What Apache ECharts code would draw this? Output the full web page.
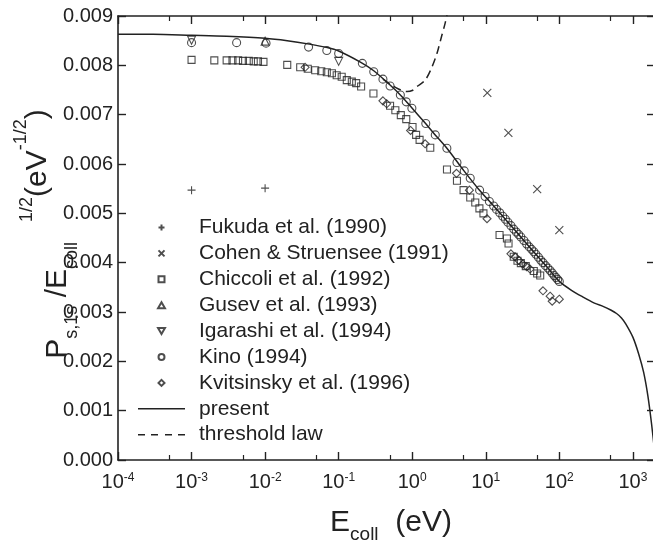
<!DOCTYPE html>
<html><head><meta charset="utf-8">
<script src="https://cdn.jsdelivr.net/npm/echarts@6/dist/echarts.min.js"></script>
<style>html,body{margin:0;padding:0;background:#fff}#c{width:653px;height:544px}</style>
</head><body><div id="c"></div><script>
// axis ticks
const xMajorTicks = [1e-4, 1e-3, 1e-2, 1e-1, 1, 10, 100, 1000];
const xMajorExp = ['-4', '-3', '-2', '-1', '0', '1', '2', '3'];
const xMinorTicks = [5e-4, 5e-3, 5e-2, 0.5, 5, 50, 500];
const yMin = 0, yMax = 0.009, yStep = 0.001;

// data [E_coll (eV), value]
const fukuda = [[0.001, 0.00547], [0.01, 0.00551]];
const cohen = [[10.5, 0.00744], [20.3, 0.00663], [50, 0.00549], [100, 0.00466]];
const chiccoli = [
  [0.001, 0.00811], [0.00204, 0.0081], [0.003, 0.0081], [0.0036, 0.0081], [0.0043, 0.0081],
  [0.005, 0.00809], [0.006, 0.00809], [0.007, 0.00808], [0.008, 0.00808], [0.0095, 0.00807],
  [0.02, 0.00801], [0.03, 0.00796], [0.038, 0.00793], [0.048, 0.0079], [0.058, 0.00788],
  [0.069, 0.00786], [0.081, 0.00784], [0.094, 0.0078], [0.11, 0.00777], [0.129, 0.0077],
  [0.151, 0.00767], [0.173, 0.00764], [0.202, 0.00757], [0.297, 0.00743], [0.5, 0.00718],
  [0.59, 0.00709], [0.7, 0.00699], [0.83, 0.00691], [1.01, 0.00675], [1.13, 0.00659],
  [1.26, 0.00649], [1.76, 0.00633], [2.97, 0.00589], [4.06, 0.00566], [4.99, 0.00547],
  [6.15, 0.00532], [7.2, 0.00522], [8.2, 0.0051], [9.3, 0.005], [15.4, 0.00456],
  [19.4, 0.00449], [20.4, 0.00439], [24, 0.00412], [27, 0.00404], [30, 0.00399],
  [35, 0.00393], [45, 0.00383], [50, 0.00378], [55, 0.00374]
];
const gusev = [[0.01, 0.00849]];
const igarashi = [[0.001, 0.00851], [0.1, 0.00808]];
const kino = [
  [0.001, 0.00846], [0.0041, 0.00846], [0.0103, 0.00845], [0.039, 0.00837], [0.069, 0.0083],
  [0.1, 0.00824], [0.21, 0.00804], [0.3, 0.00787], [0.4, 0.00772], [0.5, 0.00758],
  [0.69, 0.0074], [0.83, 0.00726], [0.99, 0.00713], [1.53, 0.00682], [2.06, 0.00659],
  [2.96, 0.00632], [4.06, 0.00603], [5.1, 0.00586], [6.15, 0.00571], [8.25, 0.00547],
  [9.8, 0.00534], [11.2, 0.00524], [12.8, 0.00515], [14, 0.00508], [15.5, 0.00501],
  [17, 0.00494], [18.5, 0.00488], [20, 0.00482], [22, 0.00475], [24, 0.00468],
  [26, 0.00462], [28, 0.00457], [30, 0.00452], [33, 0.00445], [36, 0.00438],
  [39, 0.00432], [42, 0.00427], [45, 0.00422], [48, 0.00417], [52, 0.00411],
  [56, 0.00405], [60, 0.004], [65, 0.00394], [70, 0.00389], [75, 0.00384],
  [80, 0.00379], [85, 0.00374], [90, 0.0037], [95, 0.00366], [100, 0.00362]
];
const kvitsinsky = [
  [0.035, 0.00796], [0.4, 0.00728], [0.45, 0.00722], [0.95, 0.00668], [1.5, 0.00641],
  [4.0, 0.00581], [6.0, 0.00547], [10.4, 0.00489], [22, 0.00418], [25, 0.00412],
  [28, 0.00405], [32, 0.00397], [36, 0.00392], [40, 0.00387], [60, 0.00343],
  [75, 0.00332], [80, 0.00322], [100, 0.00326]
];
const present = [
  [1e-4, 0.00863], [3e-4, 0.00863], [1e-3, 0.00861], [3e-3, 0.00859], [0.01, 0.00855],
  [0.02, 0.0085], [0.04, 0.00843], [0.07, 0.00836], [0.1, 0.00829], [0.2, 0.00806],
  [0.3, 0.00789], [0.5, 0.0076], [0.7, 0.00739], [1, 0.00713], [1.5, 0.00683],
  [2, 0.00661], [3, 0.00631], [5, 0.00587], [8, 0.00549], [13, 0.00514],
  [20, 0.00482], [30, 0.00452], [50, 0.00414], [70, 0.00389], [100, 0.00362],
  [150, 0.00343], [200, 0.00332], [300, 0.00318], [400, 0.00311], [500, 0.00304],
  [600, 0.00297], [700, 0.00288], [800, 0.00276], [1000, 0.00249], [1200, 0.00215],
  [1400, 0.00178], [1600, 0.0013], [1800, 0.00072], [2000, 0.0001]
];
const threshold = [
  [0.4, 0.00772], [0.5, 0.00762], [0.65, 0.00752], [0.85, 0.00747], [1.0, 0.00749],
  [1.16, 0.00757], [1.5, 0.0077], [1.86, 0.00797], [2.17, 0.00824], [2.5, 0.00858],
  [2.8, 0.00885], [3.05, 0.0091]
];

const INK = '#222';
const FONT = 'Liberation Sans, Arial, sans-serif';
const hollow = {color: 'rgba(0,0,0,0)', borderColor: INK, borderWidth: 1.1};
const SYM = {
  plus: 'path://M0,5L10,5M5,0L5,10',
  cross: 'path://M0,0L10,10M10,0L0,10',
  square: 'path://M0,0L10,0L10,10L0,10Z',
  up: 'path://M5,0L10,8.66L0,8.66Z',
  down: 'path://M0,0L10,0L5,8.66Z',
  diamond: 'path://M5,0L10,5L5,10L0,5Z',
  solid: 'path://M0,0L47,0L47,1.5L0,1.5Z',
  dashed: 'path://M0,0L7,0L7,1.5L0,1.5Z M13,0L20,0L20,1.5L13,1.5Z M27,0L34,0L34,1.5L27,1.5Z M40,0L47,0L47,1.5L40,1.5Z'
};

function scatter(name, data, symbol, size) {
  return {name, type: 'scatter', data, symbol, symbolSize: size, itemStyle: hollow,
          xAxisIndex: 0, yAxisIndex: 0, z: 3};
}

const chart = echarts.init(document.getElementById('c'), null, {renderer: 'canvas'});
const baseX = {type: 'log', min: 1e-4, max: 2000, logBase: 10, gridIndex: 0,
               splitLine: {show: false}, minorTick: {show: false}};
chart.setOption({
  animation: false,
  backgroundColor: '#fff',
  textStyle: {fontFamily: FONT, color: INK},
  grid: {left: 118, top: 16, width: 537, height: 444, containLabel: false, outerBoundsMode: 'none'},
  xAxis: [
    Object.assign({}, baseX, {
      position: 'bottom',
      axisLine: {show: true, lineStyle: {color: INK, width: 1.6}},
      axisTick: {show: true, inside: true, length: 8, lineStyle: {color: INK, width: 1.4}, customValues: xMajorTicks},
      axisLabel: {show: true, margin: 12, customValues: xMajorTicks,
        formatter: v => {
          const i = Math.round(Math.log10(v)) + 4;
          return '{b|10}{s|' + xMajorExp[i] + '}';
        },
        rich: {
          b: {fontSize: 20, lineHeight: 20, fontFamily: FONT, color: INK, verticalAlign: 'bottom'},
          s: {fontSize: 12, lineHeight: 12, fontFamily: FONT, color: INK, verticalAlign: 'top'}
        }},
      name: '{m|E}{s|coll}{m|  (eV)}',
      nameLocation: 'middle', nameGap: 54, nameMoveOverlap: false,
      nameTextStyle: {padding: [0, 0, 0, 9], rich: {
        m: {fontSize: 30, lineHeight: 30, fontFamily: FONT, color: INK, verticalAlign: 'bottom', padding: [0, 0, 6, 0]},
        s: {fontSize: 19, lineHeight: 19, fontFamily: FONT, color: INK, verticalAlign: 'bottom'}
      }}
    }),
    Object.assign({}, baseX, {
      position: 'bottom',
      axisLine: {show: false},
      axisTick: {show: true, inside: true, length: 5, lineStyle: {color: INK, width: 1.2}, customValues: xMinorTicks},
      axisLabel: {show: false}
    }),
    Object.assign({}, baseX, {
      position: 'top',
      axisLine: {show: true, lineStyle: {color: INK, width: 1.6}},
      axisTick: {show: true, inside: true, length: 8, lineStyle: {color: INK, width: 1.4}, customValues: xMajorTicks},
      axisLabel: {show: false}
    }),
    Object.assign({}, baseX, {
      position: 'top',
      axisLine: {show: false},
      axisTick: {show: true, inside: true, length: 5, lineStyle: {color: INK, width: 1.2}, customValues: xMinorTicks},
      axisLabel: {show: false}
    })
  ],
  yAxis: [
    {
      type: 'value', min: yMin, max: yMax, interval: yStep, position: 'left',
      splitLine: {show: false},
      axisLine: {show: true, lineStyle: {color: INK, width: 1.6}},
      axisTick: {show: true, inside: true, length: 8, lineStyle: {color: INK, width: 1.4}},
      axisLabel: {margin: 5, fontSize: 20, fontFamily: FONT, color: INK, formatter: v => v.toFixed(3)},
      name: '{m|P}{sb|s,1s}{m| /E}{sb|coll}{sp1|    1/2}{mu|(eV}{sp2|-1/2}{mu|)}',
      nameLocation: 'middle', nameRotate: 90, nameGap: 37, nameMoveOverlap: false,
      nameTextStyle: {padding: [0, 0, 0, 8], rich: {
        m: {fontSize: 30, lineHeight: 30, fontFamily: FONT, color: INK, verticalAlign: 'bottom', padding: [0, 0, 8, 0]},
        mu: {fontSize: 30, lineHeight: 30, fontFamily: FONT, color: INK, verticalAlign: 'bottom', padding: [0, 0, 28, 0]},
        sb: {fontSize: 18, lineHeight: 18, fontFamily: FONT, color: INK, verticalAlign: 'bottom'},
        sp1: {fontSize: 18, lineHeight: 18, fontFamily: FONT, color: INK, verticalAlign: 'bottom', padding: [0, 0, 45, 0]},
        sp2: {fontSize: 18, lineHeight: 18, fontFamily: FONT, color: INK, verticalAlign: 'bottom', padding: [0, 0, 51, 0]}
      }}
    },
    {
      type: 'value', min: yMin, max: yMax, interval: yStep, position: 'right',
      splitLine: {show: false},
      axisLine: {show: true, lineStyle: {color: INK, width: 1.6}},
      axisTick: {show: true, inside: true, length: 8, lineStyle: {color: INK, width: 1.4}},
      axisLabel: {show: false}
    }
  ],
  legend: {
    orient: 'vertical', left: 138, top: 217, padding: 0,
    itemWidth: 47, itemHeight: 6, itemGap: 4.9, symbolKeepAspect: true,
    textStyle: {fontSize: 21, lineHeight: 21, fontFamily: FONT, color: INK, padding: [0, 0, 0, 9]},
    data: [
      {name: 'Fukuda et al. (1990)', icon: SYM.plus},
      {name: 'Cohen & Struensee (1991)', icon: SYM.cross},
      {name: 'Chiccoli et al. (1992)', icon: SYM.square},
      {name: 'Gusev et al. (1993)', icon: SYM.up},
      {name: 'Igarashi et al. (1994)', icon: SYM.down},
      {name: 'Kino (1994)', icon: 'circle'},
      {name: 'Kvitsinsky et al. (1996)', icon: SYM.diamond},
      {name: 'present', icon: SYM.solid, itemStyle: {color: INK, borderWidth: 0}},
      {name: 'threshold law', icon: SYM.dashed, itemStyle: {color: INK, borderWidth: 0}}
    ],
    selectedMode: false
  },
  series: [
    scatter('Fukuda et al. (1990)', fukuda, SYM.plus, 8),
    scatter('Cohen & Struensee (1991)', cohen, SYM.cross, 8),
    scatter('Chiccoli et al. (1992)', chiccoli, SYM.square, 7),
    scatter('Gusev et al. (1993)', gusev, SYM.up, 8),
    scatter('Igarashi et al. (1994)', igarashi, SYM.down, 8),
    scatter('Kino (1994)', kino, 'circle', 8),
    scatter('Kvitsinsky et al. (1996)', kvitsinsky, SYM.diamond, 8),
    {name: 'present', type: 'line', data: present, symbol: 'none', smooth: 0.3,
     lineStyle: {color: INK, width: 1.5}, itemStyle: {color: INK}, clip: true, z: 2},
    {name: 'threshold law', type: 'line', data: threshold, symbol: 'none', smooth: 0.3,
     lineStyle: {color: INK, width: 1.5, type: [8, 5]}, itemStyle: {color: INK}, clip: true, z: 2}
  ]
});
</script></body></html>
